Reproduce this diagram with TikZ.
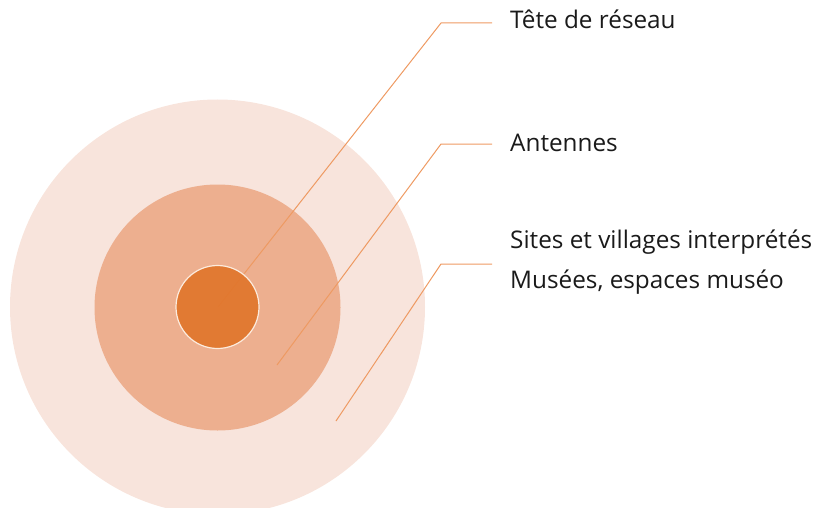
\documentclass[tikz,border=0pt]{standalone}
\usepackage{fontspec}
\setmainfont{Open Sans}
\definecolor{outerc}{HTML}{F8E4DC}
\definecolor{midc}{HTML}{EDAF8F}
\definecolor{innerc}{HTML}{E1762C}
\definecolor{rimc}{HTML}{FCEBDD}
\definecolor{linec}{HTML}{EE9A62}
\definecolor{txt}{HTML}{1A1A1A}
\begin{document}
\begin{tikzpicture}[x=1pt,y=-1pt,
  ring/.style={circle,inner sep=0pt,draw=none},
  lbl/.style={anchor=base west,font=\fontsize{24.3}{28}\selectfont,text=txt,inner sep=0pt},
  leader/.style={draw=linec,line width=1pt}]
\useasboundingbox (0,0) rectangle (824,508);
\node[ring,fill=outerc,minimum size=415pt] (outer) at (217.5,307) {};
\node[ring,fill=midc,minimum size=246pt] (mid) at (217.5,307.5) {};
% leaders
\coordinate (s1) at (218,307);
\coordinate (k1) at (441,23);
\coordinate (e1) at (492,23);
\coordinate (s2) at (277,365);
\coordinate (k2) at (441,144);
\coordinate (e2) at (492,144);
\coordinate (s3) at (336,421);
\coordinate (k3) at (441,264);
\coordinate (e3) at (492,264);
\draw[leader] (s1) -- (k1) -- (e1);
\node[ring,fill=innerc,fill opacity=0.92,draw=rimc,line width=1.2pt,minimum size=83pt] (inner) at (217.5,307) {};
\draw[leader] (s2) -- (k2) -- (e2);
\draw[leader] (s3) -- (k3) -- (e3);
\node[lbl] (t1) at (510,29) {Tête de réseau};
\node[lbl] (t2) at (510,151) {Antennes};
\node[lbl] (t3) at (510,248) {Sites et villages interprétés};
\node[lbl] (t4) at (510,288) {Musées, espaces muséo};
\end{tikzpicture}
\end{document}
